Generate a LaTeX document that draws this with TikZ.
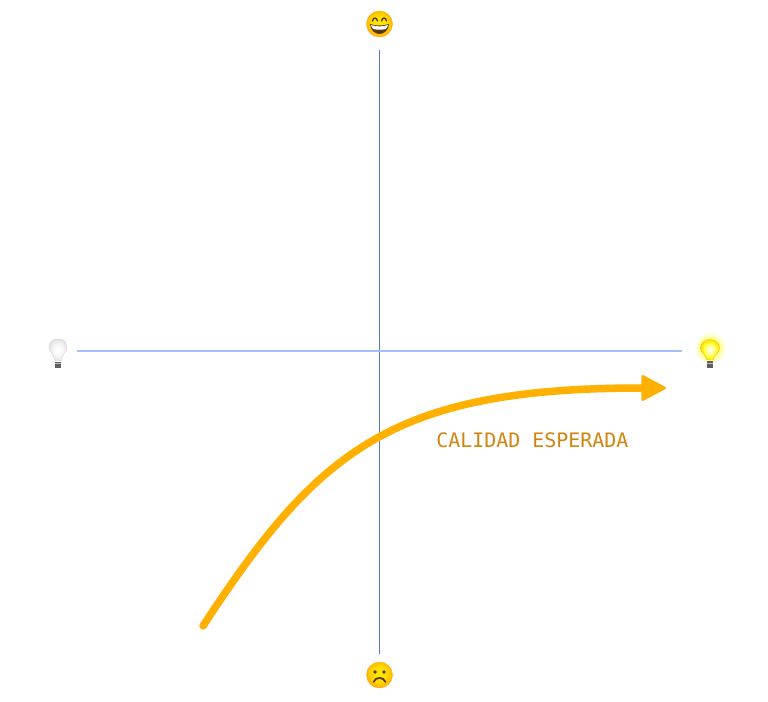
\documentclass[tikz,border=0pt]{standalone}
\usepackage{fontspec}
\usepackage{xcolor}
\usepackage{tikz}
\usetikzlibrary{arrows.meta,positioning,calc}
\setmonofont{DejaVu Sans Mono}
\definecolor{axisblue}{HTML}{4A76C8}
\definecolor{paleblue}{HTML}{A4BFF5}
\definecolor{curveamber}{HTML}{FFB000}
\definecolor{labelamber}{HTML}{CF8510}
\definecolor{facedark}{HTML}{5A3A10}
\pgfdeclareradialshading{facefill}{\pgfpoint{0bp}{4bp}}{
  color(0bp)=(yellow!82!orange); color(14bp)=(yellow!72!orange); color(23bp)=(yellow!50!orange); color(29bp)=(orange!80!yellow); color(50bp)=(orange!80!yellow)}
\pgfdeclareradialshading{glowfill}{\pgfpoint{0bp}{0bp}}{
  color(0bp)=(yellow!60); color(15bp)=(yellow!45); color(20bp)=(yellow!22); color(25bp)=(white); color(50bp)=(white)}
\pgfdeclareradialshading{litfill}{\pgfpoint{0bp}{0bp}}{
  color(0bp)=(white); color(8bp)=(yellow!30); color(17bp)=(yellow!80); color(25bp)=(yellow!75!orange); color(50bp)=(yellow!75!orange)}
\pgfdeclareradialshading{offfill}{\pgfpoint{0bp}{0bp}}{
  color(0bp)=(white); color(13bp)=(gray!6); color(25bp)=(gray!22); color(50bp)=(gray!22)}
\tikzset{
  anchorpt/.style   ={circle,minimum size=26*0.02cm,inner sep=0pt},
  yaxis/.style      ={axisblue!75!gray,line width=0.55pt},
  xaxis/.style      ={paleblue,line width=0.8pt},
  expected/.style   ={curveamber,line width=0.15cm,line cap=round,
                      -{Triangle[length=0.52cm,width=0.54cm,round,line width=0.05cm]}},
  curvelabel/.style ={font=\ttfamily\fontsize{11.35}{14}\selectfont,text=labelamber,inner sep=0pt},
  faceball/.style   ={shading=facefill,draw=orange!70!yellow,line width=0.2pt},
  feature/.style    ={draw=facedark,line width=0.75pt,line cap=round},
  bulbbase/.style   ={fill=gray!75!black},
  happyface/.pic={
    \path[shade,faceball] (0,0) circle[radius=13];
    \draw[feature] (-7,-3) .. controls (-6,-7) and (-3,-7) .. (-2,-3);
    \draw[feature] (2,-3) .. controls (3,-7) and (6,-7) .. (7,-3);
    \fill[facedark] (-9.5,0) .. controls (-5,2) and (5,2) .. (9.5,0)
       .. controls (9,7) and (4,10) .. (0,10) .. controls (-4,10) and (-9,7) .. (-9.5,0) -- cycle;
    \fill[white] (-8.5,1) .. controls (-4,2.8) and (4,2.8) .. (8.5,1)
       .. controls (8,3.6) and (7,4.6) .. (6,5) .. controls (3,6) and (-3,6) .. (-6,5)
       .. controls (-7,4.6) and (-8,3.6) .. (-8.5,1) -- cycle;
  },
  sadface/.pic={
    \path[shade,faceball] (0,0) circle[radius=13];
    \fill[facedark] (-4.5,-3) circle[radius=1.8];
    \fill[facedark] (4.5,-3) circle[radius=1.8];
    \draw[feature,line width=1pt] (-6,7) .. controls (-4,1.5) and (4,1.5) .. (6,7);
  },
  bulbglass/.pic={
    \path[shade,shading=offfill,draw=gray!35,line width=0.2pt] (-3,10) .. controls (-4,3) and (-9,1) .. (-9,-4)
       .. controls (-9,-10) and (-4,-12) .. (0,-12) .. controls (4,-12) and (9,-10) .. (9,-4)
       .. controls (9,1) and (4,3) .. (3,10) -- cycle;
    \fill[bulbbase] (-3,11) rectangle (3,17);
    \fill[gray!50] (-3,12.5) rectangle (3,13.2);
  },
  bulblit/.pic={
    \path[shade,shading=glowfill] (0,-3) circle[radius=16];
    \path[shade,shading=litfill,draw=orange!60!yellow,line width=0.2pt] (-3,9) .. controls (-4,3) and (-9.5,2) .. (-9.5,-3)
       .. controls (-9.5,-9) and (-4,-11.5) .. (0,-11.5) .. controls (4,-11.5) and (9.5,-9) .. (9.5,-3)
       .. controls (9.5,2) and (4,3) .. (3,9) -- cycle;
    \fill[bulbbase] (-3,10) rectangle (3,17);
    \fill[gray!50] (-3,12) rectangle (3,12.7);
  },
}
\begin{document}
\begin{tikzpicture}[x=0.02cm,y=-0.02cm]
  \useasboundingbox (0,0) rectangle (768,702);
  \node[anchorpt] (happy) at (379.5,24) {};
  \node[anchorpt] (sad) at (379.5,675) {};
  \node[anchorpt] (bulboff) at (58,351) {};
  \node[anchorpt] (bulbon) at (710,351) {};
  \coordinate (start) at (203,626);
  \coordinate (finish) at (666,388);
  \node[curvelabel,anchor=west] (quality) at (436,440) {CALIDAD ESPERADA};

  \draw[yaxis,shorten <=13*0.02cm,shorten >=8*0.02cm] (happy) -- (sad);
  \draw[xaxis,shorten <=6*0.02cm,shorten >=15*0.02cm] (bulboff) -- (bulbon);
  \draw[expected] (start) .. controls (318,450) and (392,388) .. (finish);

  \pic at (happy) {happyface};
  \pic at (sad) {sadface};
  \pic at (bulboff) {bulbglass};
  \pic at (bulbon) {bulblit};
\end{tikzpicture}
\end{document}
